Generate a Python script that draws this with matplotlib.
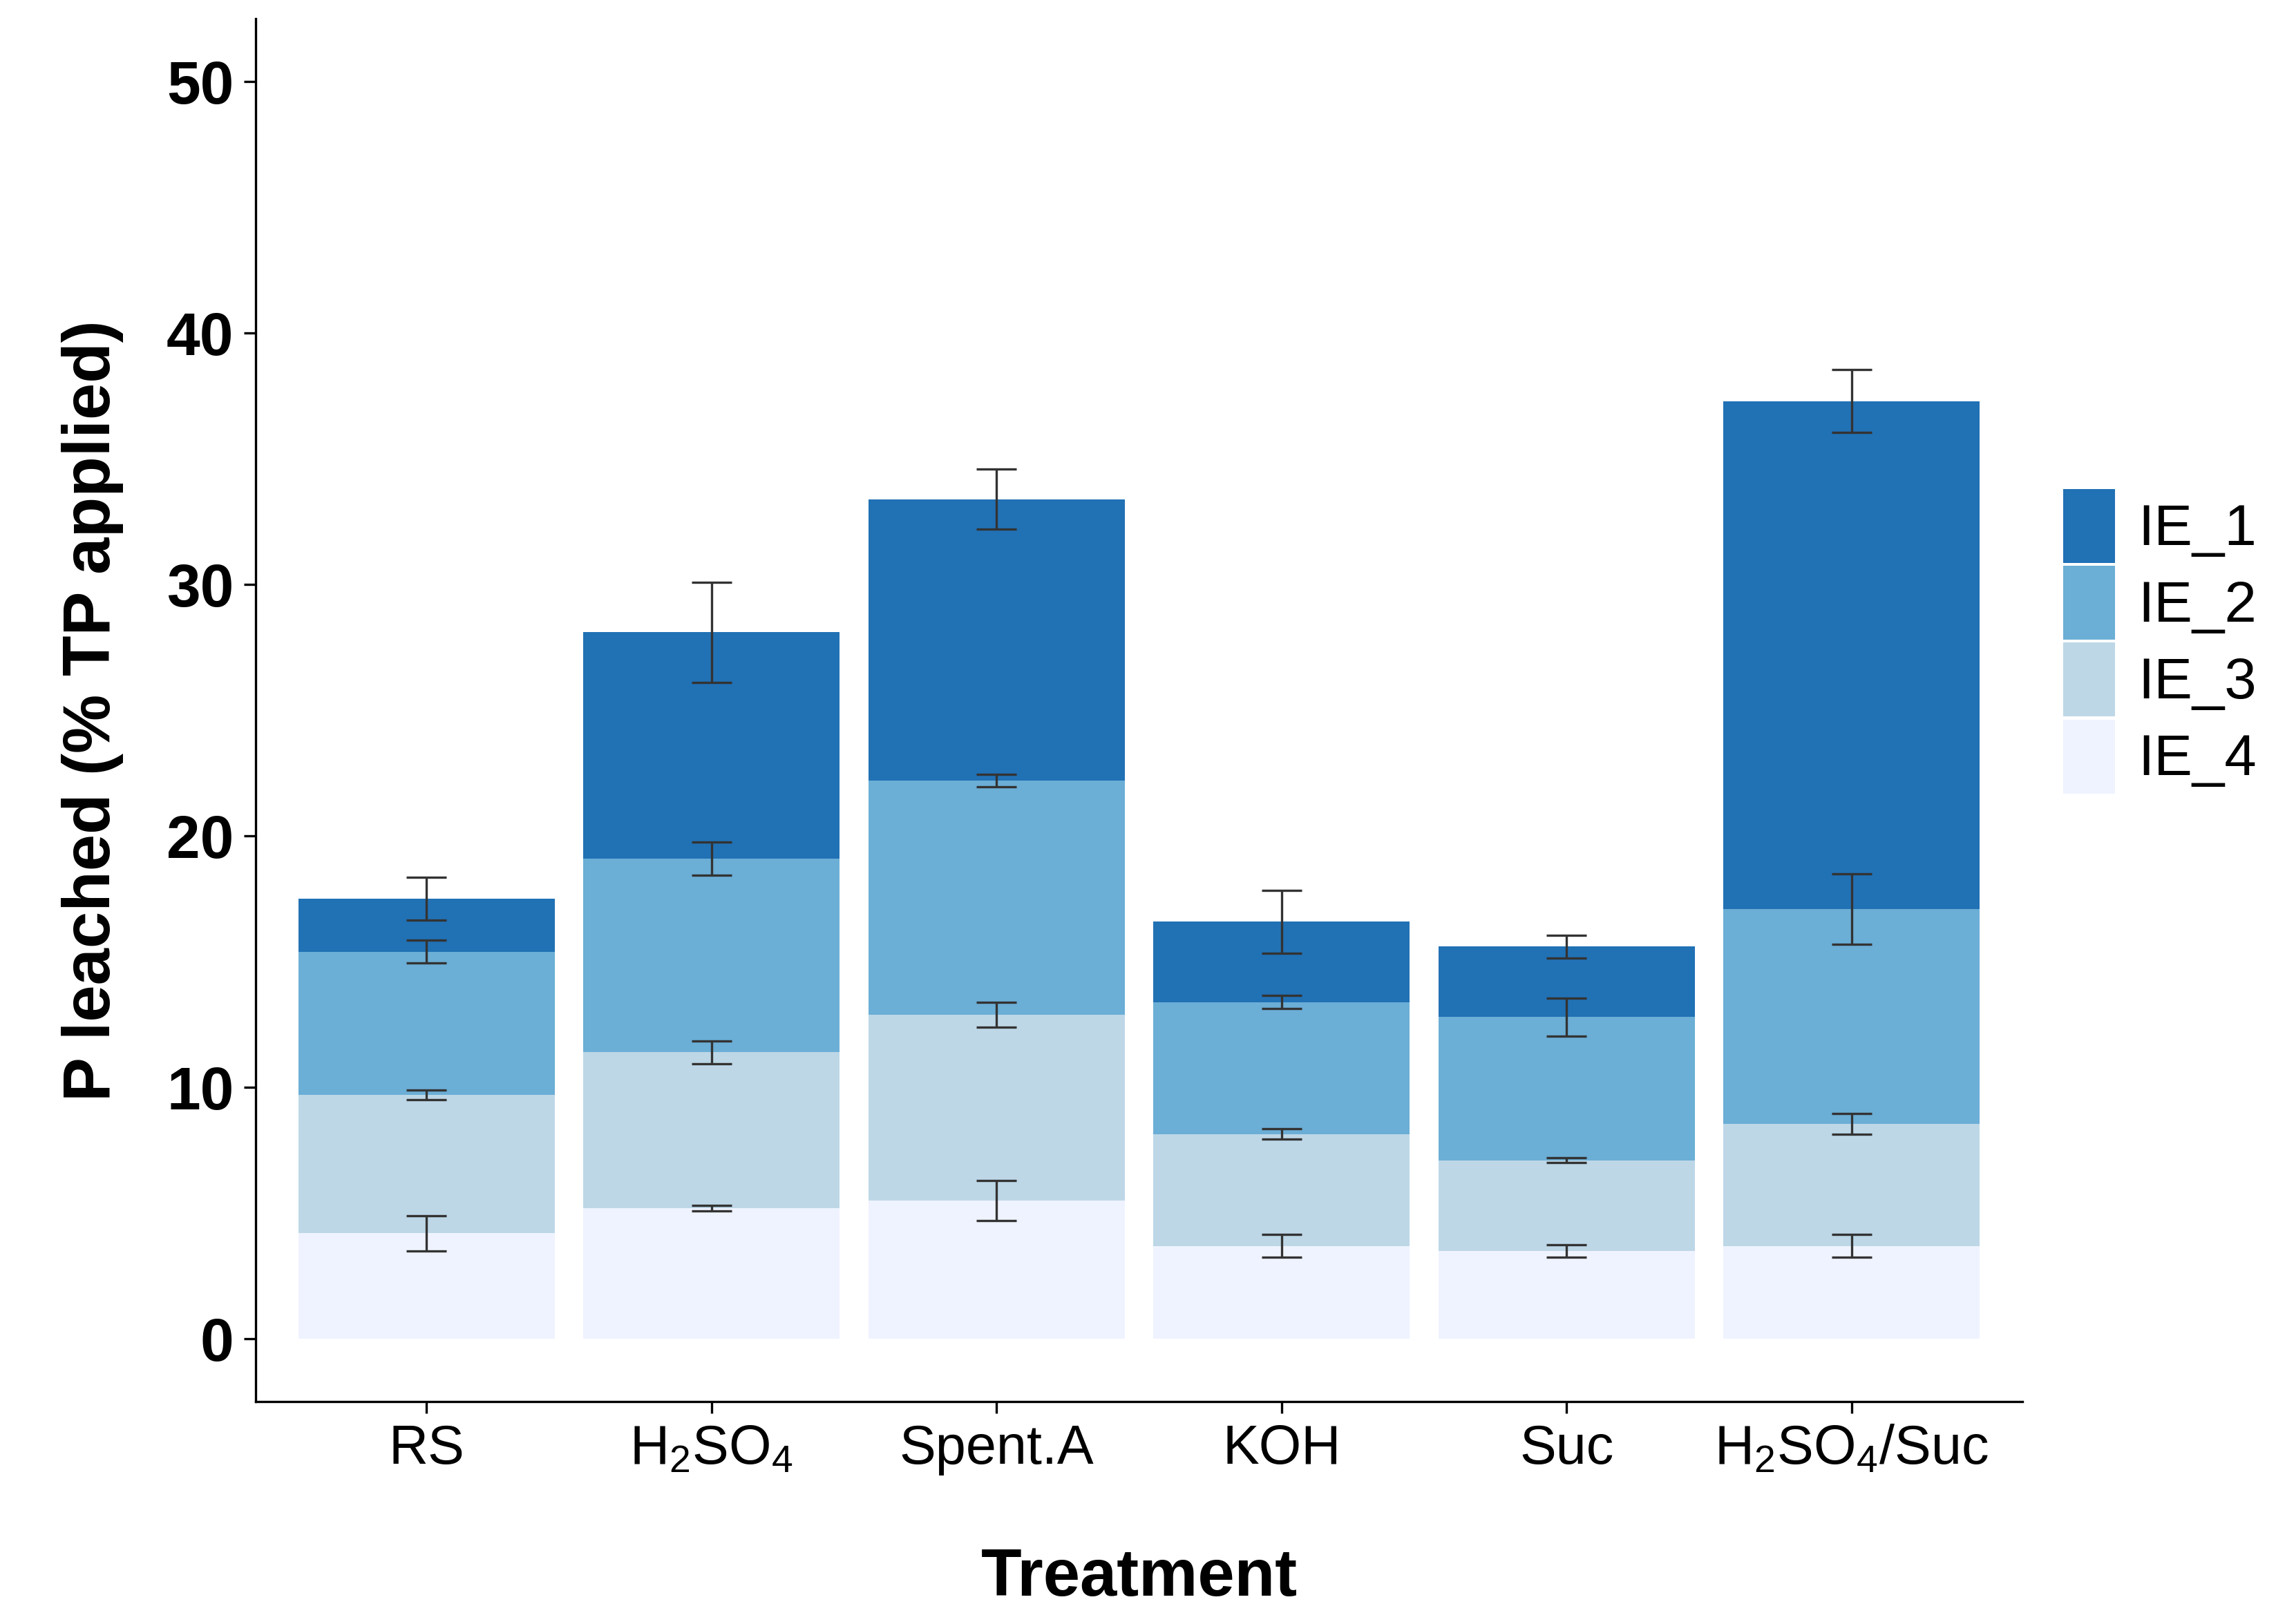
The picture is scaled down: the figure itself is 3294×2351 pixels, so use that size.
import matplotlib
matplotlib.use('Agg')
import matplotlib.pyplot as plt
import numpy as np

plt.rcParams['font.family'] = ['Liberation Sans', 'DejaVu Sans']
plt.rcParams['mathtext.default'] = 'regular'

treatments = ['RS', r'H$_2$SO$_4$', 'Spent.A', 'KOH', 'Suc', r'H$_2$SO$_4$/Suc']
# segment heights (bottom to top: IE_4, IE_3, IE_2, IE_1)
ie4 = [4.2, 5.2, 5.5, 3.7, 3.5, 3.7]
ie3 = [5.5, 6.2, 7.4, 4.45, 3.6, 4.85]
ie2 = [5.7, 7.7, 9.3, 5.25, 5.7, 8.55]
ie1 = [2.1, 9.0, 11.2, 3.2, 2.8, 20.2]
err4 = [0.7, 0.1, 0.8, 0.45, 0.25, 0.45]
err3 = [0.2, 0.45, 0.5, 0.2, 0.1, 0.4]
err2 = [0.45, 0.65, 0.25, 0.25, 0.75, 1.4]
err1 = [0.85, 2.0, 1.2, 1.25, 0.45, 1.25]

colors = {'IE_1': '#2171b5', 'IE_2': '#6baed6', 'IE_3': '#bdd7e7', 'IE_4': '#eff3ff'}

fig = plt.figure(figsize=(3295/300, 2351/300), dpi=300)
ax = fig.add_axes([176/1568, 1-965/1118, (1393-176)/1568, (965-13)/1118])

x = np.arange(len(treatments))
bottom = np.zeros(len(x))
handles = {}
for name, vals, errs in [('IE_4', ie4, err4), ('IE_3', ie3, err3),
                         ('IE_2', ie2, err2), ('IE_1', ie1, err1)]:
    vals = np.array(vals)
    h = ax.bar(x, vals, 0.9, bottom=bottom, color=colors[name], label=name)
    handles[name] = h
    bottom = bottom + vals
    ax.errorbar(x, bottom, yerr=errs, fmt='none', ecolor='#333333',
                elinewidth=0.8, capsize=7, capthick=0.8)

ax.set_xlim(-0.6, 5.6)
ax.set_ylim(-2.5, 52.5)
ax.set_yticks([0, 10, 20, 30, 40, 50])
ax.set_xticks(x)
ax.set_xticklabels(treatments, fontsize=19)
for lab in ax.get_yticklabels():
    lab.set_fontsize(21)
    lab.set_fontweight('bold')
ax.spines['top'].set_visible(False)
ax.spines['right'].set_visible(False)
ax.tick_params(length=4)
ax.set_xlabel('Treatment', fontsize=23, fontweight='bold', labelpad=25)
ax.set_ylabel('P leached (% TP applied)', fontsize=23, fontweight='bold', labelpad=15)

order = ['IE_1', 'IE_2', 'IE_3', 'IE_4']
ax.legend([handles[k] for k in order], order, loc='center left',
          bbox_to_anchor=(1.01, 0.55), frameon=False, fontsize=20,
          handlelength=0.9, handleheight=1.6, labelspacing=0.05,
          handletextpad=0.4, borderaxespad=0)

fig.savefig('out.png', dpi=300)
